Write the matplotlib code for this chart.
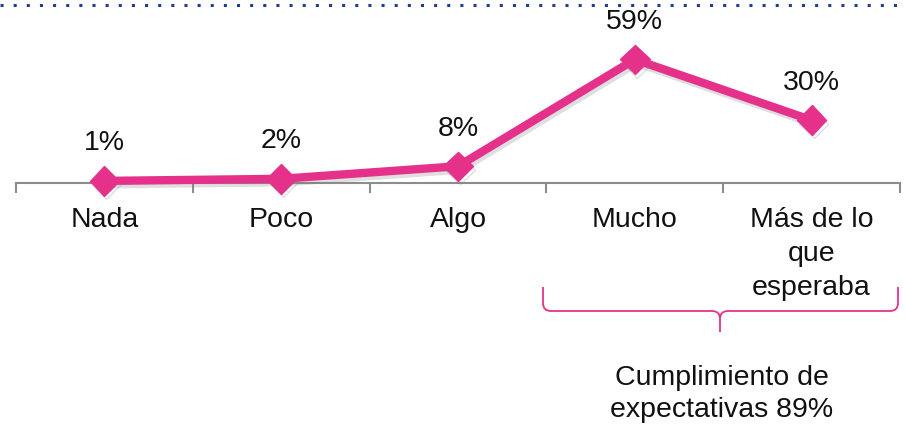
import matplotlib
matplotlib.use("Agg")
import matplotlib.pyplot as plt
from matplotlib.lines import Line2D
from matplotlib.path import Path
from matplotlib.patches import PathPatch
import matplotlib.patheffects as pe

plt.rcParams['font.family'] = ['Liberation Sans', 'DejaVu Sans']

categories = ["Nada", "Poco", "Algo", "Mucho", "Más de lo\nque\nesperaba"]
values = [1, 2, 8, 59, 30]
value_labels = ["1%", "2%", "8%", "59%", "30%"]
group_label = "Cumplimiento de\nexpectativas 89%"

PINK = "#E5318A"
FS = 20.5

W, H = 905, 425
fig = plt.figure(figsize=(W / 100, H / 100), dpi=100)

# axes: x from px 16 to 900, y=0 at px 183, y=85 at px 5
ax = fig.add_axes([16 / W, (H - 183) / H, 884 / W, 178 / H])
ax.set_xlim(-0.5, 4.5)
ax.set_ylim(0, 85)
for s in ["top", "right", "left"]:
    ax.spines[s].set_visible(False)
ax.spines["bottom"].set_color("#8C8C8C")
ax.spines["bottom"].set_linewidth(1.5)
ax.set_yticks([])
ax.set_xticks([])
ax.set_xticks([i - 0.5 for i in range(len(categories) + 1)], minor=True)
ax.tick_params(axis="x", which="minor", length=7, width=1.5, color="#8C8C8C", direction="out")

x = list(range(len(categories)))
ax.plot(x, values, color=PINK, lw=6, marker="D", markersize=15,
        markerfacecolor=PINK, markeredgecolor=PINK, clip_on=False,
        solid_capstyle="butt", zorder=3,
        path_effects=[pe.SimpleLineShadow(offset=(1.5, -2.5), shadow_color="gray", alpha=0.25), pe.Normal()])

for xi, v, lab in zip(x, values, value_labels):
    ax.annotate(lab, (xi, v), xytext=(0, 27), textcoords="offset points",
                ha="center", va="center", fontsize=FS, color="#111111")

for xi, c in zip(x, categories):
    ax.annotate(c, (xi, 0), xycoords=("data", "axes fraction"), xytext=(0, -17),
                textcoords="offset points", ha="center", va="top", fontsize=FS,
                color="#111111", linespacing=1.42)

# top dotted line
fig.add_artist(Line2D([0, 1], [(H - 5) / H] * 2, transform=fig.transFigure,
                      color="#1F3E8C", lw=2.2, ls=(0, (1, 3.3))))

# brace (figure pixel coords converted)
def P(px, py):
    return (px / W, (H - py) / H)

xl, xr, yb, ytop, xm, ybot = 543, 898, 311, 287, 720, 332
r = 8
verts = [P(xl, ytop), P(xl, yb - r), P(xl, yb), P(xl + r, yb),
         P(xm - r, yb), P(xm, yb), P(xm, yb + r), P(xm, ybot)]
codes = [Path.MOVETO, Path.LINETO, Path.CURVE3, Path.CURVE3,
         Path.LINETO, Path.CURVE3, Path.CURVE3, Path.LINETO]
fig.add_artist(PathPatch(Path(verts, codes), transform=fig.transFigure,
                         fill=False, edgecolor=PINK, lw=1.3))
verts2 = [P(xr, ytop), P(xr, yb - r), P(xr, yb), P(xr - r, yb),
          P(xm + r, yb), P(xm, yb), P(xm, yb + r)]
codes2 = [Path.MOVETO, Path.LINETO, Path.CURVE3, Path.CURVE3,
          Path.LINETO, Path.CURVE3, Path.CURVE3]
fig.add_artist(PathPatch(Path(verts2, codes2), transform=fig.transFigure,
                         fill=False, edgecolor=PINK, lw=1.3))

fig.text(722 / W, (H - 394) / H, group_label, ha="center", va="center",
         fontsize=FS, color="#111111", linespacing=1.28)

fig.savefig("out.png", dpi=100)
